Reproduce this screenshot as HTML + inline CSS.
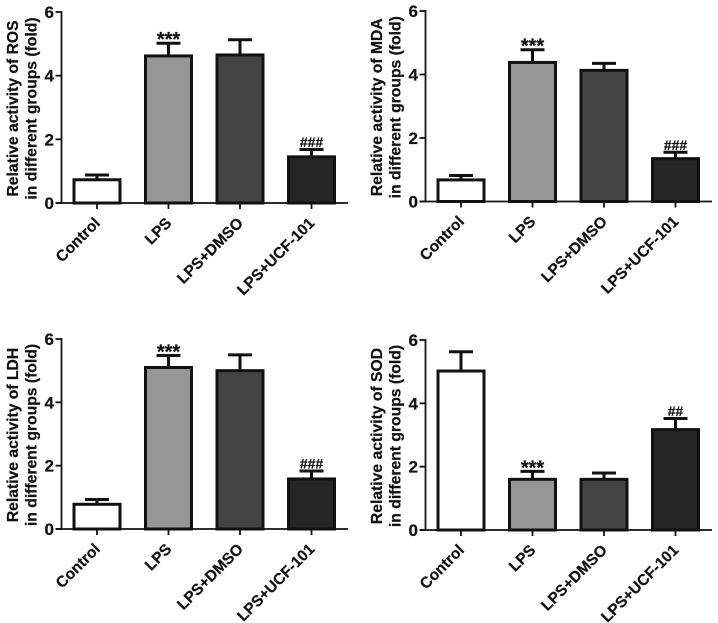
<!DOCTYPE html>
<html lang="en">
<head>
<meta charset="utf-8">
<title>Relative activity by group</title>
<style>
html,body{margin:0;padding:0;background:#fff;width:718px;height:623px;overflow:hidden}
svg{display:block;font-family:"Liberation Sans",Arial,sans-serif;font-weight:bold;fill:#111;filter:blur(0.35px)}
text{stroke:#111;stroke-width:0.22px}
</style>
</head>
<body>
<svg id="figure" width="718" height="623" viewBox="0 0 718 623" xmlns="http://www.w3.org/2000/svg"></svg>
<script>
const categories = ["Control", "LPS", "LPS+DMSO", "LPS+UCF-101"];
const yTicks = [0, 2, 4, 6];
const rosValues = [0.73, 4.62, 4.65, 1.45];
const rosErrors = [0.15, 0.40, 0.48, 0.23];
const rosMarks = ["", "***", "", "###"];
const mdaValues = [0.68, 4.38, 4.13, 1.35];
const mdaErrors = [0.14, 0.40, 0.22, 0.20];
const mdaMarks = ["", "***", "", "###"];
const ldhValues = [0.78, 5.10, 5.00, 1.58];
const ldhErrors = [0.15, 0.38, 0.50, 0.25];
const ldhMarks = ["", "***", "", "###"];
const sodValues = [5.02, 1.60, 1.60, 3.17];
const sodErrors = [0.61, 0.25, 0.20, 0.35];
const sodMarks = ["", "***", "", "##"];

const fills = ["#ffffff", "#969696", "#444444", "#262626"];
const panels = [
  {key: "ros", name: "ROS", values: rosValues, errors: rosErrors, marks: rosMarks, left: 61.5, y0: 203, y6: 12, t1: 18, t2: 36.5},
  {key: "mda", name: "MDA", values: mdaValues, errors: mdaErrors, marks: mdaMarks, left: 425.5, y0: 201.5, y6: 11, t1: 382, t2: 400.5},
  {key: "ldh", name: "LDH", values: ldhValues, errors: ldhErrors, marks: ldhMarks, left: 61.5, y0: 529, y6: 339, t1: 18, t2: 36.5},
  {key: "sod", name: "SOD", values: sodValues, errors: sodErrors, marks: sodMarks, left: 425.5, y0: 530, y6: 340, t1: 382, t2: 400.5}
];
const NS = "http://www.w3.org/2000/svg";
const root = document.getElementById("figure");

function make(parent, tag, attrs, text) {
  const el = document.createElementNS(NS, tag);
  for (const k in attrs) el.setAttribute(k, attrs[k]);
  if (text !== undefined) el.textContent = text;
  parent.appendChild(el);
  return el;
}

panels.forEach(function (p) {
  const yScale = function (v) { return p.y0 + (p.y6 - p.y0) * v / 6; };
  const xScale = function (i) { return p.left + 35.5 + i * 71.5; };

  const g = make(root, "g", {});
  
  

  categories.forEach(function (cat, i) {
    const cx = xScale(i), top = yScale(p.values[i]), errTop = yScale(p.values[i] + p.errors[i]);
    const stem = make(g, "line", {x1: cx, x2: cx, y1: top, y2: errTop, stroke: "#111", "stroke-width": 3});
    
    
    const cap = make(g, "line", {x1: cx - 12, x2: cx + 12, y1: errTop, y2: errTop, stroke: "#111", "stroke-width": 3});
    
    
    const bar = make(g, "rect", {x: cx - 23, y: top, width: 46, height: p.y0 - top, fill: fills[i], stroke: "#111", "stroke-width": 3});
    
    

    const tick = make(g, "line", {x1: cx, x2: cx, y1: p.y0, y2: p.y0 + 6, stroke: "#111", "stroke-width": 1.8});
    
    

    const lx = cx + 4, ly = p.y0 + 21;
    const label = make(g, "text", {x: lx, y: ly, "text-anchor": "end", "font-size": 15.5, transform: "rotate(-45 " + lx + " " + ly + ")"}, cat);
    
    

    const mark = p.marks[i];
    if (mark) {
      const star = mark.charAt(0) === "*";
      const note = make(g, "text", {x: cx, y: errTop + (star ? 3 : -2.5), "text-anchor": "middle", "font-size": star ? 20 : 14}, mark);
      
      
    }
  });

  const yAxis = make(g, "line", {x1: p.left, x2: p.left, y1: p.y6 - 0.9, y2: p.y0 + 0.9, stroke: "#111", "stroke-width": 1.8});
  
  
  const xAxis = make(g, "line", {x1: p.left - 6, x2: p.left + 286.5, y1: p.y0, y2: p.y0, stroke: "#111", "stroke-width": 1.8});
  
  

  yTicks.forEach(function (t) {
    const y = yScale(t);
    const tick = make(g, "line", {x1: p.left - 6, x2: p.left, y1: y, y2: y, stroke: "#111", "stroke-width": 1.8});
    
    
    const label = make(g, "text", {x: p.left - 7.5, y: y + 6, "text-anchor": "end", "font-size": 17}, String(t));
    
    
  });

  const midY = (p.y0 + p.y6) / 2 + 1;
  const title1 = make(g, "text", {x: p.t1, y: midY, "text-anchor": "middle", "font-size": 15.7, transform: "rotate(-90 " + p.t1 + " " + midY + ")"}, "Relative activity of " + p.name);
  
  
  const title2 = make(g, "text", {x: p.t2, y: midY, "text-anchor": "middle", "font-size": 15.7, transform: "rotate(-90 " + p.t2 + " " + midY + ")"}, "in different groups (fold)");
  
  
});
</script>
</body>
</html>
